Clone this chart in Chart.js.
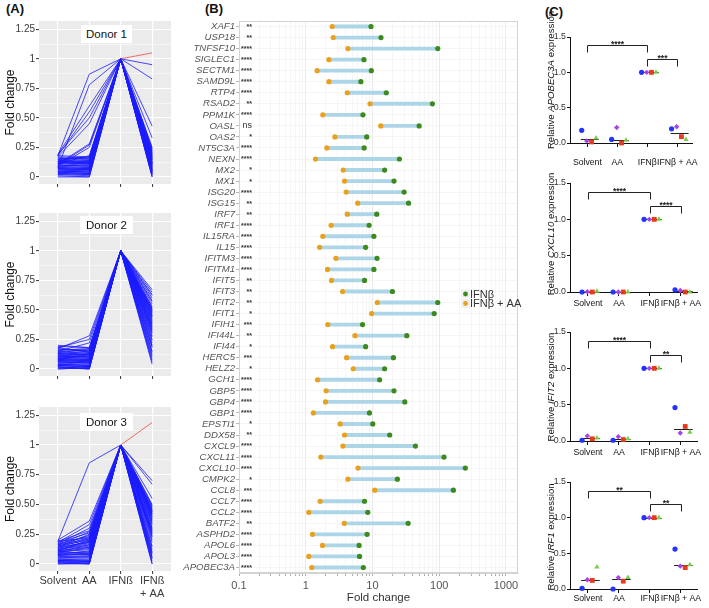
<!DOCTYPE html>
<html>
<head>
<meta charset="utf-8">
<script src="https://cdn.jsdelivr.net/npm/chart.js@4.4.1/dist/chart.umd.min.js"></script>
<style>
  body { margin: 0; width: 709px; height: 608px; position: relative; overflow: hidden; background: #fff;
         font-family: 'Liberation Sans', Arial, sans-serif; }
  canvas { position: absolute; }
  .plabel { position: absolute; font-weight: bold; font-size: 13px; color: #111; }
  .donor { position: absolute; background: #fff; font-size: 11.5px; color: #111; text-align: center; line-height: 18px; }
  .ytitle { position: absolute; width: 160px; height: 12px; line-height: 12px; text-align: center;
            font-size: 9.6px; color: #111; transform: rotate(-90deg); white-space: nowrap; }
</style>
</head>
<body>
<div class="plabel" style="left:6px;top:1px">(A)</div>
<div class="plabel" style="left:205px;top:1px">(B)</div>
<div class="plabel" style="left:545px;top:4px">(C)</div>

<script>
// ---------- (A) fold change relative to IFNß, one line per gene ----------
var conditionsA = ['Solvent', 'AA', 'IFNß', ['IFNß', '+ AA']];
var ifnbLevel = 1;

var d1Solvent = [0.12,0.05,0.18,0.09,0.15,0.02,0.11,0.07,0.19,0.13,0.04,0.16,0.08,0.10,0.14,0.03,0.17,0.06,0.12,0.01,0.09,0.15,0.11,0.05,0.18,0.07,0.13,0.02,0.10,0.16,0.04,0.12,0.08,0.19,0.06,0.14,0.03,0.11,0.17,0.09,0.00,0.13,0.07,0.15,0.05,0.10,0.18,0.08,0.12,0.04];
var d1AA      = [0.14,0.06,0.87,0.10,0.17,0.03,0.28,0.08,0.60,0.12,0.05,0.15,0.78,0.09,0.13,0.02,0.45,0.07,0.11,0.00,0.25,0.16,0.10,0.04,0.55,0.06,0.12,0.01,0.27,0.15,0.03,0.11,0.07,0.50,0.05,0.13,0.02,0.18,0.16,0.08,0.00,0.12,0.06,0.14,0.04,0.09,0.17,0.07,0.11,0.03];
var d1IfnAA   = [0.10,0.05,0.95,0.15,0.20,0.02,0.33,0.08,0.43,0.12,0.00,0.18,0.83,0.07,0.22,0.03,0.25,0.11,0.14,0.01,0.23,0.16,0.06,0.04,1.05,0.09,0.13,0.02,0.19,0.17,0.05,0.21,0.10,0.12,0.04,0.15,0.03,0.08,0.24,0.11,0.00,0.14,0.06,0.18,0.07,0.09,0.20,0.12,0.16,0.05];

var d2Solvent = [0.10,0.04,0.17,0.08,0.13,0.01,0.19,0.06,0.15,0.11,0.03,0.14,0.07,0.09,0.18,0.02,0.12,0.05,0.16,0.00,0.10,0.13,0.08,0.04,0.20,0.06,0.11,0.02,0.15,0.09,0.03,0.12,0.07,0.17,0.05,0.14,0.01,0.10,0.16,0.08,0.00,0.13,0.06,0.18,0.04,0.11,0.15,0.07,0.09,0.03];
var d2AA      = [0.12,0.03,0.28,0.07,0.15,0.02,0.18,0.05,0.22,0.10,0.01,0.16,0.08,0.11,0.25,0.00,0.14,0.06,0.17,0.01,0.09,0.12,0.07,0.03,0.18,0.05,0.13,0.00,0.16,0.08,0.02,0.10,0.06,0.15,0.04,0.12,0.00,0.09,0.17,0.07,0.01,0.11,0.05,0.14,0.03,0.10,0.13,0.06,0.08,0.02];
var d2IfnAA   = [0.45,0.30,0.65,0.52,0.38,0.12,0.60,0.25,0.67,0.48,0.04,0.55,0.33,0.42,0.62,0.20,0.50,0.36,0.58,0.15,0.44,0.47,0.28,0.10,0.63,0.35,0.51,0.18,0.40,0.46,0.08,0.49,0.31,0.53,0.22,0.43,0.14,0.39,0.57,0.34,0.06,0.45,0.27,0.50,0.24,0.41,0.48,0.37,0.32,0.19];

var d3Solvent = [0.11,0.05,0.19,0.09,0.14,0.02,0.17,0.07,0.20,0.12,0.03,0.15,0.08,0.10,0.18,0.01,0.13,0.06,0.16,0.00,0.11,0.14,0.09,0.04,0.19,0.07,0.12,0.02,0.16,0.10,0.03,0.13,0.08,0.18,0.05,0.15,0.01,0.11,0.17,0.09,0.00,0.14,0.06,0.19,0.04,0.12,0.16,0.08,0.10,0.03];
var d3AA      = [0.20,0.06,0.85,0.14,0.25,0.02,0.30,0.09,0.36,0.18,0.03,0.22,0.11,0.16,0.33,0.00,0.19,0.07,0.27,0.01,0.15,0.21,0.10,0.04,0.28,0.08,0.17,0.00,0.24,0.13,0.02,0.19,0.09,0.26,0.05,0.20,0.01,0.14,0.23,0.10,0.00,0.18,0.06,0.22,0.03,0.16,0.21,0.08,0.12,0.02];
var d3IfnAA   = [0.40,0.20,0.70,0.45,0.35,0.05,0.55,0.25,0.67,0.42,0.00,0.48,0.30,0.38,1.19,0.12,0.44,0.28,0.50,0.08,0.36,0.46,0.22,0.04,0.47,0.26,0.41,0.10,0.33,0.43,0.02,0.39,0.24,0.49,0.15,0.37,0.06,0.31,0.45,0.27,0.00,0.40,0.18,0.44,0.14,0.34,0.42,0.29,0.23,0.09];

// ---------- (B) fold change per gene, IFNβ vs IFNβ + AA ----------
var genes = ['XAF1','USP18','TNFSF10','SIGLEC1','SECTM1','SAMD9L','RTP4','RSAD2','PPM1K','OASL','OAS2','NT5C3A','NEXN','MX2','MX1','ISG20','ISG15','IRF7','IRF1','IL15RA','IL15','IFITM3','IFITM1','IFIT5','IFIT3','IFIT2','IFIT1','IFIH1','IFI44L','IFI44','HERC5','HELZ2','GCH1','GBP5','GBP4','GBP1','EPSTI1','DDX58','CXCL9','CXCL11','CXCL10','CMPK2','CCL8','CCL7','CCL2','BATF2','ASPHD2','APOL6','APOL3','APOBEC3A'];
var foldIfnb   = [9.5,13.4,95,7.45,9.6,6.7,16.1,79,7.2,50,8.2,7.5,25.3,15.2,21,29.8,34.7,11.6,8.9,10.5,7.9,11.7,10.5,7.6,19.9,95,84,7.1,32.7,7.9,20.6,15.2,12.8,21,30.5,9.0,10.1,18.1,44,118,246,23.6,163,7.6,8.5,34.2,8.3,6.3,6.4,7.3];
var foldIfnbAA = [2.49,2.58,4.28,2.22,1.48,2.22,4.19,9.2,1.80,13.3,2.73,2.07,1.40,3.64,3.81,4.04,6.0,4.19,2.40,1.80,1.61,2.83,2.12,2.43,3.56,11.8,9.7,2.14,5.46,2.52,4.09,5.15,1.50,2.02,1.98,1.30,3.28,3.81,3.60,1.68,6.05,4.28,10.8,1.64,1.11,3.77,1.26,1.78,1.11,1.23];
var signif = ['**','**','****','****','****','****','****','**','****','ns','*','****','****','*','*','****','**','**','****','****','****','****','****','**','**','**','*','***','**','*','***','*','****','****','****','****','*','**','****','****','****','*','***','****','****','**','****','****','****','****'];
var legendB = ['IFNβ', 'IFNβ + AA'];

// ---------- (C) relative expression, rows = donors, columns = conditions ----------
var conditionsC = ['Solvent', 'AA', 'IFNβ', 'IFNβ + AA'];
var apobec3a = [[0.18,0.05,1,0.20],[0.03,0.22,1,0.23],[0.015,0.0,1,0.09],[0.07,0.04,1,0.05]];
var cxcl10   = [[0.0,0.0,1,0.03],[0.005,0.0,1,0.02],[0.0,0.0,1,0.0],[0.01,0.0,1,0.0]];
var ifit2    = [[0.01,0.01,1,0.46],[0.07,0.06,1,0.11],[0.03,0.02,1,0.20],[0.04,0.03,1,0.12]];
var irf1     = [[0.01,0.0,1,0.56],[0.13,0.16,1,0.32],[0.12,0.11,1,0.30],[0.31,0.16,1,0.34]];
var apobec3aSig = ['****','***'];
var cxcl10Sig   = ['****','****'];
var ifit2Sig    = ['****','**'];
var irf1Sig     = ['**','**'];

Chart.defaults.font.family = "'Liberation Sans', Arial, sans-serif";
Chart.defaults.animation = false;
Chart.defaults.plugins.legend.display = false;
Chart.defaults.plugins.tooltip.enabled = false;

function addCanvas(left, top, w, h) {
    var c = document.createElement('canvas');
    c.width = w; c.height = h;
    c.style.left = left + 'px'; c.style.top = top + 'px';
    document.body.appendChild(c);
    return c;
}

function addDiv(cls, left, top, w, html) {
    var d = document.createElement('div');
    d.className = cls;
    d.style.left = left + 'px'; d.style.top = top + 'px';
    if (w) d.style.width = w + 'px';
    d.innerHTML = html;
    document.body.appendChild(d);
    return d;
}

// grey ggplot panel
var greyPanel = {
    id: 'greyPanel',
    beforeDraw: function(chart) {
        var a = chart.chartArea, ctx = chart.ctx;
        ctx.save();
        ctx.fillStyle = '#ebebeb';
        ctx.fillRect(a.left, a.top, a.right - a.left, a.bottom - a.top);
        ctx.restore();
    }
};

var yLabelsA = { 0: '0', 0.25: '0.25', 0.5: '0.50', 0.75: '0.75', 1: '1', 1.25: '1.25' };

function donorChart(cv, sol, aa, ifnAA, padTop, xHeight, showX) {
    var sets = [];
    for (var i = 0; i < sol.length; i++) {
        sets.push({
            data: [sol[i], aa[i], ifnbLevel, ifnAA[i]].map(function(v, k) { return { x: k, y: v }; }),
            borderColor: '#1a1aff',
            borderWidth: 0.8,
            pointRadius: 0,
            order: ifnAA[i] > ifnbLevel ? 0 : 1,
            segment: {
                borderColor: function(c) { return c.p1.parsed.y > ifnbLevel ? '#ec4b3c' : '#1a1aff'; }
            }
        });
    }
    return new Chart(cv, {
        type: 'line',
        data: { datasets: sets },
        options: {
            responsive: false,
            devicePixelRatio: 1,
            layout: { padding: { top: padTop, right: 9, left: 0, bottom: 0 } },
            scales: {
                x: {
                    type: 'linear', min: -0.6, max: 3.6,
                    afterBuildTicks: function(s) { s.ticks = [0, 1, 2, 3].map(function(v) { return { value: v }; }); },
                    afterFit: function(s) { s.height = xHeight; },
                    grid: { color: '#ffffff', lineWidth: 1.1, tickColor: '#444', tickLength: 3 },
                    border: { display: false },
                    ticks: {
                        autoSkip: false, maxRotation: 0, padding: 1, color: '#3a3a3a',
                        font: { size: 11, lineHeight: 1.15 },
                        callback: function(v) { return showX ? conditionsA[v] : ''; }
                    }
                },
                y: {
                    min: -0.06, max: 1.32,
                    afterBuildTicks: function(s) {
                        var t = [];
                        for (var k = 0; k <= 10; k++) t.push({ value: k * 0.125 });
                        s.ticks = t;
                    },
                    afterFit: function(s) { s.width = 39; },
                    grid: {
                        color: '#ffffff',
                        lineWidth: function(c) { return (c.tick && yLabelsA[c.tick.value] !== undefined) ? 1.1 : 0.5; },
                        tickColor: function(c) { return (c.tick && yLabelsA[c.tick.value] !== undefined) ? '#444' : 'rgba(0,0,0,0)'; },
                        tickLength: 3
                    },
                    border: { display: false },
                    title: { display: true, text: 'Fold change', color: '#111', font: { size: 12 }, padding: { top: 3, bottom: 2 } },
                    ticks: {
                        autoSkip: false, padding: 1, color: '#3a3a3a', font: { size: 10 },
                        callback: function(v) { return yLabelsA[v] !== undefined ? yLabelsA[v] : ''; }
                    }
                }
            }
        },
        plugins: [greyPanel]
    });
}

donorChart(addCanvas(0, 0, 180, 200), d1Solvent, d1AA, d1IfnAA, 21, 16, false);
donorChart(addCanvas(0, 200, 180, 200), d2Solvent, d2AA, d2IfnAA, 13, 24, false);
donorChart(addCanvas(0, 400, 180, 208), d3Solvent, d3AA, d3IfnAA, 6, 37, true);
addDiv('donor', 81, 25, 51, 'Donor 1');
addDiv('donor', 80, 216, 53, 'Donor 2');
addDiv('donor', 80, 413, 53, 'Donor 3');

// ---------- panel B ----------
var green = '#3b8a1d', orange = '#e9a11d';

var logTicks = [];
[0.1, 1, 10, 100, 1000].forEach(function(dec) {
    for (var k = 1; k <= 9; k++) {
        if (dec === 1000 && k > 1) break;
        logTicks.push({ value: k * dec, major: k === 1 });
    }
});

var panelB = {
    id: 'panelB',
    afterDraw: function(chart) {
        var a = chart.chartArea, ctx = chart.ctx, ys = chart.scales.y;
        ctx.save();
        ctx.strokeStyle = '#d3d3d3';
        ctx.lineWidth = 1;
        ctx.strokeRect(a.left + 0.5, a.top + 0.5, a.right - a.left - 1, a.bottom - a.top - 1);
        // significance marks beside the gene names
        ctx.fillStyle = '#333';
        ctx.textAlign = 'right';
        ctx.textBaseline = 'middle';
        for (var i = 0; i < signif.length; i++) {
            var y = ys.getPixelForValue(i);
            var ns = signif[i] === 'ns';
            ctx.font = (ns ? '9px' : 'bold 7px') + ' "Liberation Sans", Arial, sans-serif';
            ctx.fillText(signif[i], a.left + 13, ns ? y : y + 0.5);
        }
        // legend
        var cols = [green, orange];
        ctx.textAlign = 'left';
        ctx.font = '11px "Liberation Sans", Arial, sans-serif';
        for (var j = 0; j < legendB.length; j++) {
            var ly = 294 + j * 9.5;
            ctx.fillStyle = '#f0f0f0';
            ctx.fillRect(281, ly - 4.5, 9, 9);
            ctx.fillStyle = cols[j];
            ctx.beginPath();
            ctx.arc(285.5, ly, 2.4, 0, Math.PI * 2);
            ctx.fill();
            ctx.fillStyle = '#333';
            ctx.fillText(legendB[j], 290, ly + 0.5);
        }
        ctx.restore();
    }
};

new Chart(addCanvas(180, 0, 350, 608), {
    type: 'bar',
    data: {
        labels: genes,
        datasets: [
            {
                type: 'line', data: foldIfnb, showLine: false, order: 1,
                pointRadius: 2.6, pointBackgroundColor: green, pointBorderColor: green, pointBorderWidth: 0
            },
            {
                type: 'line', data: foldIfnbAA, showLine: false, order: 1,
                pointRadius: 2.6, pointBackgroundColor: orange, pointBorderColor: orange, pointBorderWidth: 0
            },
            {
                type: 'bar', order: 3,
                data: genes.map(function(g, i) { return [foldIfnbAA[i], foldIfnb[i]]; }),
                backgroundColor: '#acd5e8', barThickness: 3.2
            }
        ]
    },
    options: {
        indexAxis: 'y',
        responsive: false,
        devicePixelRatio: 1,
        layout: { padding: { top: 21, right: 12, left: 0, bottom: 0 } },
        scales: {
            x: {
                type: 'logarithmic', min: 0.1, max: 1514,
                afterBuildTicks: function(s) { s.ticks = logTicks.map(function(t) { return { value: t.value, major: t.major }; }); },
                afterFit: function(s) { s.height = 35; },
                grid: {
                    color: function(c) { return c.tick && c.tick.major ? '#e4e4e4' : '#f4f4f4'; },
                    lineWidth: 0.8,
                    tickColor: '#999',
                    tickLength: 3
                },
                border: { color: '#d3d3d3' },
                title: { display: true, text: 'Fold change', color: '#333', font: { size: 11.5 }, padding: { top: 2, bottom: 3 } },
                ticks: {
                    autoSkip: false, maxRotation: 0, padding: 3, color: '#555', font: { size: 11 },
                    callback: function(v, i) { return logTicks[i] && logTicks[i].major ? String(logTicks[i].value) : ''; }
                }
            },
            y: {
                type: 'category', offset: true,
                afterFit: function(s) { s.width = 59; },
                grid: { offset: false, color: '#f0f0f0', lineWidth: 0.7, tickColor: '#999', tickLength: 3 },
                border: { color: '#d3d3d3' },
                ticks: { autoSkip: false, padding: 1, color: '#555', font: { size: 9.6, style: 'italic' } }
            }
        }
    },
    plugins: [panelB]
});

// ---------- panel C ----------
var donorStyle = [
    { color: '#2334ff', shape: 'circle', r: 2.6, dx: -0.19 },
    { color: '#a844e6', shape: 'rectRot', r: 2.7, dx: -0.02 },
    { color: '#e8391d', shape: 'rect', r: 3.4, dx: 0.14 },
    { color: '#79cc45', shape: 'triangle', r: 3.0, dx: 0.29 }
];

function median(arr) {
    var s = arr.slice().sort(function(a, b) { return a - b; });
    var m = Math.floor(s.length / 2);
    return s.length % 2 ? s[m] : (s[m - 1] + s[m]) / 2;
}

var cDecor = {
    id: 'cDecor',
    beforeDatasetsDraw: function(chart) {
        var xs = chart.scales.x, ys = chart.scales.y, ctx = chart.ctx;
        var vals = chart.options.plugins.cDecor.vals;
        ctx.save();
        ctx.strokeStyle = '#222';
        ctx.lineWidth = 1;
        for (var g = 0; g < conditionsC.length; g++) {
            var m = median(vals.map(function(d) { return d[g]; }));
            var y = Math.round(ys.getPixelForValue(m)) + 0.5;
            ctx.beginPath();
            ctx.moveTo(xs.getPixelForValue(g - 0.22), y);
            ctx.lineTo(xs.getPixelForValue(g + 0.38), y);
            ctx.stroke();
        }
        ctx.restore();
    },
    afterDraw: function(chart) {
        var xs = chart.scales.x, ys = chart.scales.y, ctx = chart.ctx;
        var o = chart.options.plugins.cDecor;
        var br = [{ from: 0, to: 2, y: 1.38 }, { from: 2, to: 3, y: 1.19 }];
        ctx.save();
        ctx.strokeStyle = '#222';
        ctx.fillStyle = '#222';
        ctx.lineWidth = 1;
        ctx.font = 'bold 8.5px "Liberation Sans", Arial, sans-serif';
        ctx.textAlign = 'center';
        ctx.textBaseline = 'bottom';
        for (var b = 0; b < br.length; b++) {
            var x1 = Math.round(xs.getPixelForValue(br[b].from)) + 0.5;
            var x2 = Math.round(xs.getPixelForValue(br[b].to)) + 0.5;
            var y = Math.round(ys.getPixelForValue(br[b].y)) + 0.5;
            ctx.beginPath();
            ctx.moveTo(x1, y + 7); ctx.lineTo(x1, y); ctx.lineTo(x2, y); ctx.lineTo(x2, y + 7);
            ctx.stroke();
            ctx.fillText(o.sig[b], (x1 + x2) / 2, y + 3);
        }
        ctx.restore();
    }
};

function exprChart(cv, vals, sig, padTop, xHeight, labelPad) {
    var sets = vals.map(function(row, d) {
        var st = donorStyle[d];
        return {
            data: row.map(function(v, g) { return { x: g + st.dx, y: v }; }),
            pointStyle: st.shape, pointRadius: st.r,
            pointBackgroundColor: st.color, pointBorderColor: st.color, pointBorderWidth: 0,
            clip: false
        };
    });
    return new Chart(cv, {
        type: 'scatter',
        data: { datasets: sets },
        options: {
            responsive: false,
            devicePixelRatio: 1,
            layout: { padding: { top: padTop, right: 12, left: 0, bottom: 0 } },
            plugins: { cDecor: { vals: vals, sig: sig } },
            scales: {
                x: {
                    type: 'linear', min: -0.58, max: 3.52,
                    afterBuildTicks: function(s) { s.ticks = [0, 1, 2, 3].map(function(v) { return { value: v }; }); },
                    afterFit: function(s) { s.height = xHeight; },
                    grid: { drawOnChartArea: false, tickColor: '#111', tickLength: 4 },
                    border: { color: '#111', width: 1 },
                    ticks: {
                        autoSkip: false, maxRotation: 0, padding: labelPad, color: '#111', font: { size: 8.7 },
                        callback: function(v) { return conditionsC[v]; }
                    }
                },
                y: {
                    min: 0, max: 1.5,
                    afterBuildTicks: function(s) { s.ticks = [0, 0.5, 1, 1.5].map(function(v) { return { value: v }; }); },
                    afterFit: function(s) { s.width = 40; },
                    grid: { drawOnChartArea: false, tickColor: '#111', tickLength: 3 },
                    border: { color: '#111', width: 1 },
                    ticks: { padding: 1, color: '#333', font: { size: 8.8 }, callback: function(v) { return v.toFixed(1); } }
                }
            }
        },
        plugins: [cDecor]
    });
}

exprChart(addCanvas(530, 25, 179, 144), apobec3a, apobec3aSig, 12, 26, 10);
exprChart(addCanvas(530, 171, 179, 143), cxcl10, cxcl10Sig, 12, 22, 2);
exprChart(addCanvas(530, 320, 179, 143), ifit2, ifit2Sig, 12, 22, 2);
exprChart(addCanvas(530, 470, 179, 138), irf1, irf1Sig, 12, 19, 0);

addDiv('ytitle', 551 - 80, 80 - 6, 160, 'Relative <i>APOBEC3A</i> expression');
addDiv('ytitle', 551 - 80, 234 - 6, 160, 'Relative <i>CXCL10</i> expression');
addDiv('ytitle', 551 - 80, 387 - 6, 160, 'Relative <i>IFIT2</i> expression');
addDiv('ytitle', 551 - 80, 537 - 6, 160, 'Relative <i>IRF1</i> expression');
</script>
</body>
</html>
